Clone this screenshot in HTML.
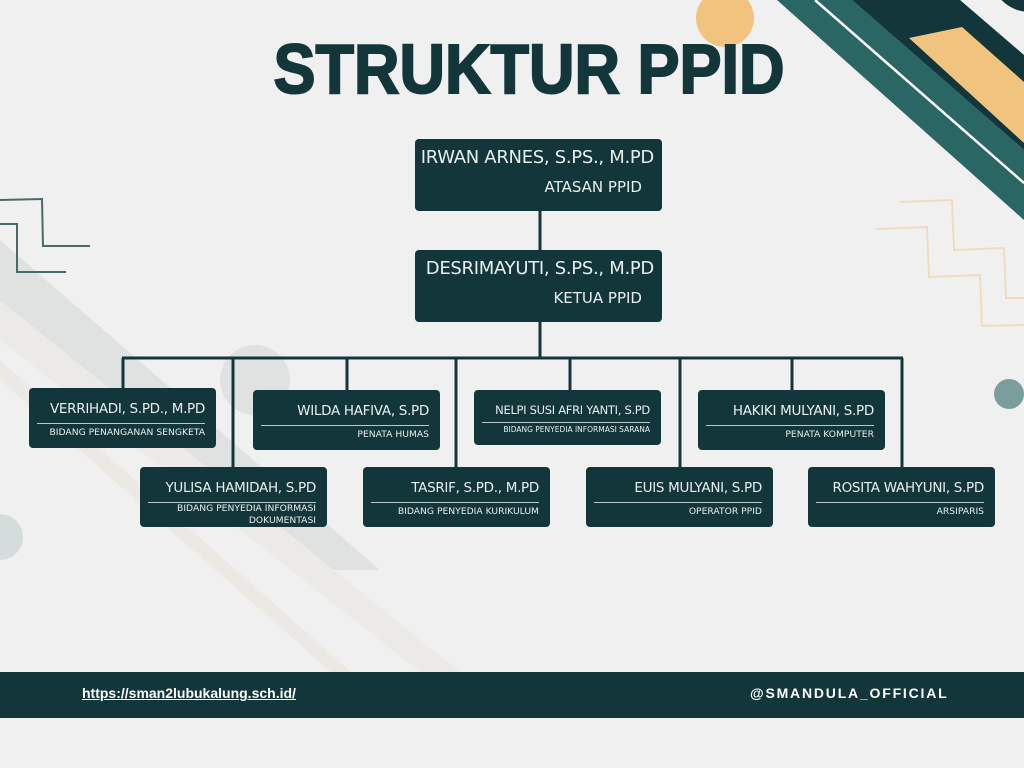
<!DOCTYPE html>
<html><head><meta charset="utf-8"><style>
*{margin:0;padding:0;box-sizing:border-box}
body{width:1024px;height:768px;background:#f0f0f0;position:relative;overflow:hidden;font-family:"DejaVu Sans","Liberation Sans",sans-serif}
svg.bg{position:absolute;left:0;top:0}
.t{position:absolute;left:0;width:1058px;top:29px;text-align:center;font:bold 70px "Liberation Sans",sans-serif;color:#12363a;transform:scaleX(0.9);transform-origin:529px 0;line-height:80px;-webkit-text-stroke:2px #12363a}
.b{position:absolute;background:#12363a;border-radius:4px;color:#e8efee;text-align:right}
.b .n{position:absolute;right:11px;top:13px;font-size:13.5px;white-space:nowrap;letter-spacing:-0.3px}
.b .l{position:absolute;left:8px;right:11px;top:35px;border-top:1px solid #b8c8c6}
.b .s{position:absolute;right:11px;top:39px;font-size:9.2px;white-space:nowrap;line-height:12px}
.big .n{font-size:18px;top:8px;right:8px}
.big .s{font-size:15px;top:42px;right:20px}
.foot{position:absolute;left:0;top:672px;width:1024px;height:46px;background:#12363a;color:#fff;font:bold 14px "Liberation Sans",sans-serif}
</style></head><body>
<svg class="bg" width="1024" height="768">
<polygon points="0,240 0,330 300,570 380,570" fill="#e0e2e2"/>
<polygon points="0,300 0,340 430,680 470,680" fill="#ebeae6"/>
<polygon points="0,360 0,380 340,680 360,680" fill="#ece9e4"/>
<circle cx="255" cy="380" r="35" fill="#e0e2e2"/>
<circle cx="0" cy="537" r="23" fill="#d5dddc"/>
<circle cx="1009" cy="394" r="15" fill="#7a9e9c"/>
<polyline points="0,200 42,199 43,246 90,246" fill="none" stroke="#4a6a6a" stroke-width="2"/>
<polyline points="0,224 17,224 17,272 66,272" fill="none" stroke="#4a6a6a" stroke-width="2"/>
<polyline points="900,202 952,200 954,250 1004,248 1006,298 1024,298" fill="none" stroke="#f0dcbc" stroke-width="2"/>
<polyline points="876,229 927,227 929,277 980,275 982,326 1024,325" fill="none" stroke="#f0dcbc" stroke-width="2"/>
<polygon points="777,0 852,0 1024,150 1024,220" fill="#2a6764"/>
<polygon points="852,0 960,0 1024,55 1024,150" fill="#12363a"/>
<line x1="815" y1="0" x2="1024" y2="183" stroke="#fff" stroke-width="2.5"/>
<polygon points="909,38 962,27 1024,82 1024,143" fill="#f0c47f"/>
<circle cx="1030" cy="-28" r="40" fill="#12363a"/>
<circle cx="725" cy="18" r="29" fill="#f0c47f"/>
<g stroke="#12363a" stroke-width="3" fill="none">
<line x1="540" y1="211" x2="540" y2="250"/>
<line x1="540" y1="322" x2="540" y2="358"/>
<line x1="122" y1="358" x2="903" y2="358"/>
<line x1="123" y1="358" x2="123" y2="390"/>
<line x1="233" y1="358" x2="233" y2="469"/>
<line x1="347" y1="358" x2="347" y2="392"/>
<line x1="456" y1="358" x2="456" y2="469"/>
<line x1="570" y1="358" x2="570" y2="392"/>
<line x1="680" y1="358" x2="680" y2="469"/>
<line x1="792" y1="358" x2="792" y2="392"/>
<line x1="902" y1="358" x2="902" y2="469"/>
</g>
</svg>
<div class="t">STRUKTUR PPID</div>
<div class="b big" style="left:415px;top:139px;width:247px;height:72px"><div class="n">IRWAN ARNES, S.PS., M.PD</div><div class="s">ATASAN PPID</div></div>
<div class="b big" style="left:415px;top:250px;width:247px;height:72px"><div class="n">DESRIMAYUTI, S.PS., M.PD</div><div class="s">KETUA PPID</div></div>
<div class="b" style="left:29px;top:388px;width:187px;height:60px"><div class="n">VERRIHADI, S.PD., M.PD</div><div class="l"></div><div class="s">BIDANG PENANGANAN SENGKETA</div></div>
<div class="b" style="left:253px;top:390px;width:187px;height:60px"><div class="n">WILDA HAFIVA, S.PD</div><div class="l"></div><div class="s">PENATA HUMAS</div></div>
<div class="b" style="left:474px;top:390px;width:187px;height:55px"><div class="n" style="font-size:11.5px;top:13px">NELPI SUSI AFRI YANTI, S.PD</div><div class="l" style="top:32px"></div><div class="s" style="font-size:7.5px;top:34px">BIDANG PENYEDIA INFORMASI SARANA</div></div>
<div class="b" style="left:698px;top:390px;width:187px;height:60px"><div class="n">HAKIKI MULYANI, S.PD</div><div class="l"></div><div class="s">PENATA KOMPUTER</div></div>
<div class="b" style="left:140px;top:467px;width:187px;height:60px"><div class="n">YULISA HAMIDAH, S.PD</div><div class="l"></div><div class="s" style="top:36px">BIDANG PENYEDIA INFORMASI<br>DOKUMENTASI</div></div>
<div class="b" style="left:363px;top:467px;width:187px;height:60px"><div class="n">TASRIF, S.PD., M.PD</div><div class="l"></div><div class="s">BIDANG PENYEDIA KURIKULUM</div></div>
<div class="b" style="left:586px;top:467px;width:187px;height:60px"><div class="n">EUIS MULYANI, S.PD</div><div class="l"></div><div class="s">OPERATOR PPID</div></div>
<div class="b" style="left:808px;top:467px;width:187px;height:60px"><div class="n">ROSITA WAHYUNI, S.PD</div><div class="l"></div><div class="s">ARSIPARIS</div></div>
<div class="foot"><span style="position:absolute;left:82px;top:13px;text-decoration:underline">https://sman2lubukalung.sch.id/</span><span style="position:absolute;left:750px;top:13px;letter-spacing:1.8px">@SMANDULA_OFFICIAL</span></div>
</body></html>
